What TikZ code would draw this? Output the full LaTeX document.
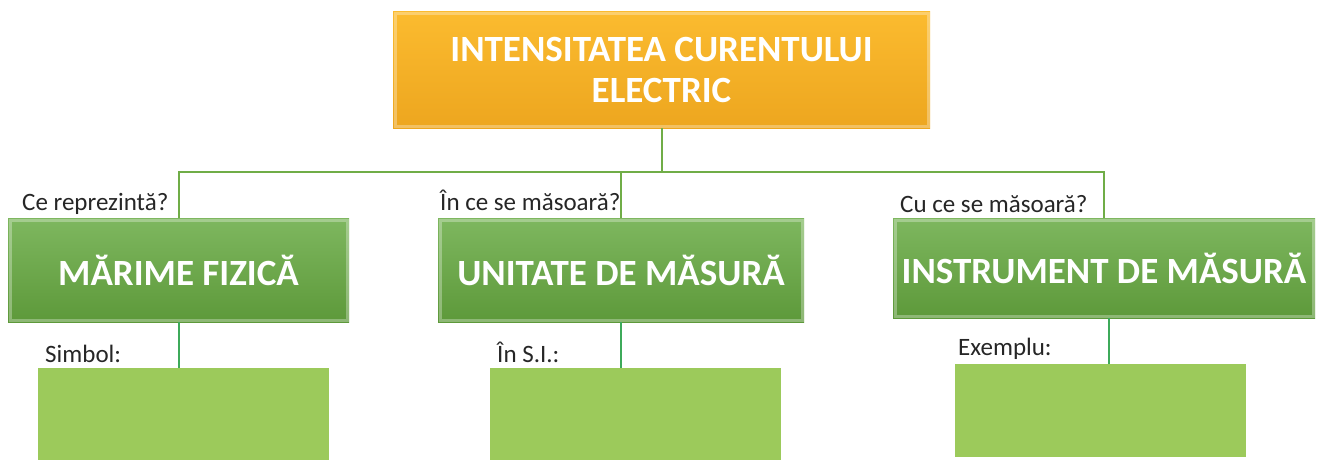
\documentclass[tikz,border=0pt]{standalone}
\usepackage{fontspec}
\setmainfont{Carlito}
\definecolor{orT}{HTML}{FBBB2F}
\definecolor{orB}{HTML}{EDA61F}
\definecolor{grT}{HTML}{7EB75F}
\definecolor{grB}{HTML}{5D993A}
\definecolor{lgr}{HTML}{9CCA5B}
\definecolor{lineg}{HTML}{70AD47}
\definecolor{lineb}{HTML}{3DAA5A}
\definecolor{txt}{HTML}{262626}
\begin{document}
\begin{tikzpicture}[x=1pt,y=-1pt,
  bevel/.style={path picture={\draw[white,opacity=0.3,line width=3pt]
      ([shift={(2pt,-2pt)}]path picture bounding box.north west) rectangle
      ([shift={(-2pt,2pt)}]path picture bounding box.south east);}},
  topbox/.style={top color=orT,bottom color=orB,bevel,inner sep=0pt,
      text=white,align=center,font=\bfseries\fontsize{37}{41}\selectfont},
  midbox/.style={top color=grT,bottom color=grB,bevel,inner sep=0pt,
      text=white,align=center,font=\bfseries\fontsize{37}{41}\selectfont},
  lowbox/.style={fill=lgr,inner sep=0pt},
  lbl/.style={anchor=base west,inner sep=0pt,text=txt,font=\fontsize{25}{29}\selectfont},
  conn/.style={draw=lineg,line width=2pt},
  conn2/.style={draw=lineb,line width=2pt}]
\useasboundingbox (0,0) rectangle (1319,460);
\node[topbox,minimum width=537pt,minimum height=116pt] (top) at (661.5,70) {INTENSITATEA CURENTULUI\\ELECTRIC};
\node[midbox,minimum width=341pt,minimum height=104pt] (b1) at (178.5,270) {MĂRIME FIZICĂ};
\node[midbox,minimum width=366pt,minimum height=104pt] (b2) at (621,270) {UNITATE DE MĂSURĂ};
\node[midbox,minimum width=422pt,minimum height=100pt] (b3) at (1104,268) {INSTRUMENT DE MĂSURĂ};
\node[lowbox,minimum width=291pt,minimum height=92pt] (c1) at (183.5,414) {};
\node[lowbox,minimum width=291pt,minimum height=92pt] (c2) at (635.5,414) {};
\node[lowbox,minimum width=291pt,minimum height=93pt] (c3) at (1100.5,410.5) {};
\coordinate (j) at (663,172);
\draw[conn] (top.south) -- (top.south |- j);
\draw[conn] (b1.north) |- (j) -| (b3.north);
\draw[conn] (b2.north) -- (b2.north |- j);
\draw[conn2] (b1.south) -- (b1.south |- c1.north);
\draw[conn2] (b2.south) -- (b2.south |- c2.north);
\draw[conn2] ([xshift=5pt]b3.south) -- ([xshift=5pt]b3.south |- c3.north);
\node[lbl] (l1) at (22,210) {Ce reprezintă?};
\node[lbl] (l2) at (440,210) {În ce se măsoară?};
\node[lbl] (l3) at (900,212) {Cu ce se măsoară?};
\node[lbl] (l4) at (45,362) {Simbol:};
\node[lbl] (l5) at (497,362) {În S.I.:};
\node[lbl] (l6) at (958,355) {Exemplu:};
\end{tikzpicture}
\end{document}
